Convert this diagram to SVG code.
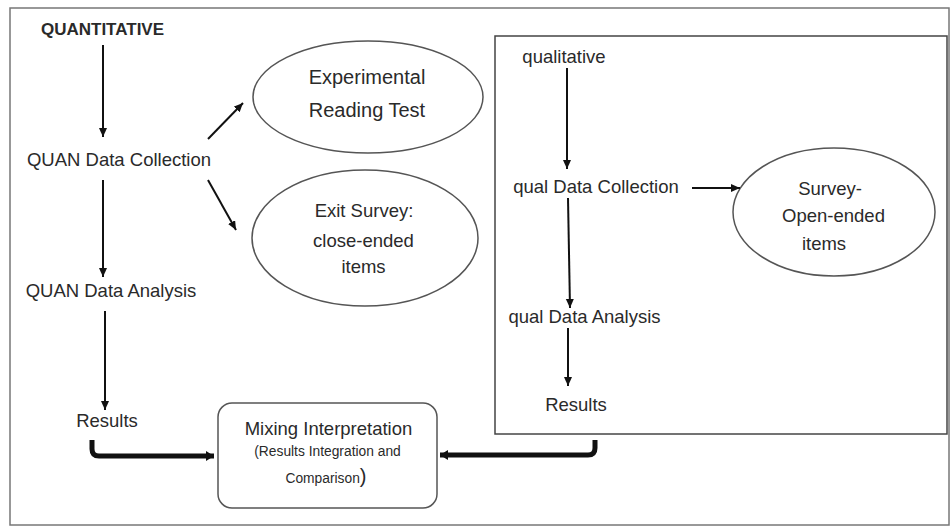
<svg xmlns="http://www.w3.org/2000/svg" width="951" height="526" viewBox="0 0 951 526">
<defs>
<style>
text{font-family:"Liberation Sans",Arial,sans-serif;fill:#2a2a2a;font-size:18.5px}
.c{text-anchor:middle}
.b{font-weight:bold;font-size:17px}
.big{font-size:20px}
.sm{font-size:13.8px}
.shape{fill:#fff;stroke:#555;stroke-width:1.5}
.thin{fill:none;stroke:#111;stroke-width:2;marker-end:url(#ah)}
.thick{fill:none;stroke:#111;stroke-width:5;marker-end:url(#ahb)}
</style>
<marker id="ah" markerUnits="userSpaceOnUse" markerWidth="10" markerHeight="10" refX="9" refY="4" orient="auto">
<path d="M0,0 L9,4 L0,8 Z" fill="#111"/>
</marker>
<marker id="ahb" markerUnits="userSpaceOnUse" markerWidth="12" markerHeight="12" refX="8" refY="5" orient="auto">
<path d="M0,0 L8,5 L0,10 Z" fill="#111"/>
</marker>
</defs>
<rect x="0" y="0" width="951" height="526" fill="#fff"/>
<rect x="10" y="8" width="939" height="517" fill="none" stroke="#777" stroke-width="1.5"/>

<g id="qual-frame"><rect x="495" y="36" width="452" height="398" fill="none" stroke="#444" stroke-width="1.5"/></g>

<g id="quantitative"><text class="c b" x="102.5" y="35">QUANTITATIVE</text></g>
<g id="quan-collection"><text class="c" x="119" y="166">QUAN Data Collection</text></g>
<g id="quan-analysis"><text class="c" x="111" y="297">QUAN Data Analysis</text></g>
<g id="quan-results"><text class="c" x="107" y="427">Results</text></g>

<g id="reading-test">
<ellipse class="shape" cx="368" cy="97" rx="115" ry="56"/>
<text class="c big" x="367" y="84">Experimental</text>
<text class="c big" x="367" y="117">Reading Test</text>
</g>
<g id="exit-survey">
<ellipse class="shape" cx="365" cy="238" rx="113" ry="68"/>
<text class="c" x="364" y="217">Exit Survey:</text>
<text class="c" x="363.5" y="247">close-ended</text>
<text class="c" x="363.5" y="273">items</text>
</g>

<g id="qualitative"><text class="c" x="564" y="63">qualitative</text></g>
<g id="qual-collection"><text class="c" x="596" y="193">qual Data Collection</text></g>
<g id="qual-analysis"><text class="c" x="584.5" y="323">qual Data Analysis</text></g>
<g id="qual-results"><text class="c" x="576" y="411">Results</text></g>

<g id="survey-open">
<ellipse class="shape" cx="834" cy="212" rx="101" ry="64"/>
<text class="c" x="830" y="195">Survey-</text>
<text class="c" x="833.5" y="222">Open-ended</text>
<text class="c" x="824" y="250">items</text>
</g>

<g id="mixing">
<rect class="shape" x="218" y="403" width="219" height="105" rx="14" ry="14"/>
<text class="c" x="328.5" y="435">Mixing Interpretation</text>
<text class="c sm" x="327.5" y="456">(Results Integration and</text>
<text class="c sm" x="326" y="483">Comparison<tspan font-size="20px">)</tspan></text>
</g>

<g id="connectors">
<path class="thin" d="M103,45 L103,137"/>
<path class="thin" d="M103,180 L103,277"/>
<path class="thin" d="M105,311 L105,410"/>
<path class="thin" d="M208,139 L243,103"/>
<path class="thin" d="M208,180 L236,230"/>
<path class="thin" d="M567,68 L567,169"/>
<path class="thin" d="M692,188 L740,188"/>
<path class="thin" d="M568,198 L570,308"/>
<path class="thin" d="M568,328 L568,386"/>
<path class="thick" d="M92,440 L92,449 Q92,456 99,456 L214,456"/>
<path class="thick" d="M595,440 L595,448 Q595,455 588,455 L440,455"/>
</g>
</svg>
